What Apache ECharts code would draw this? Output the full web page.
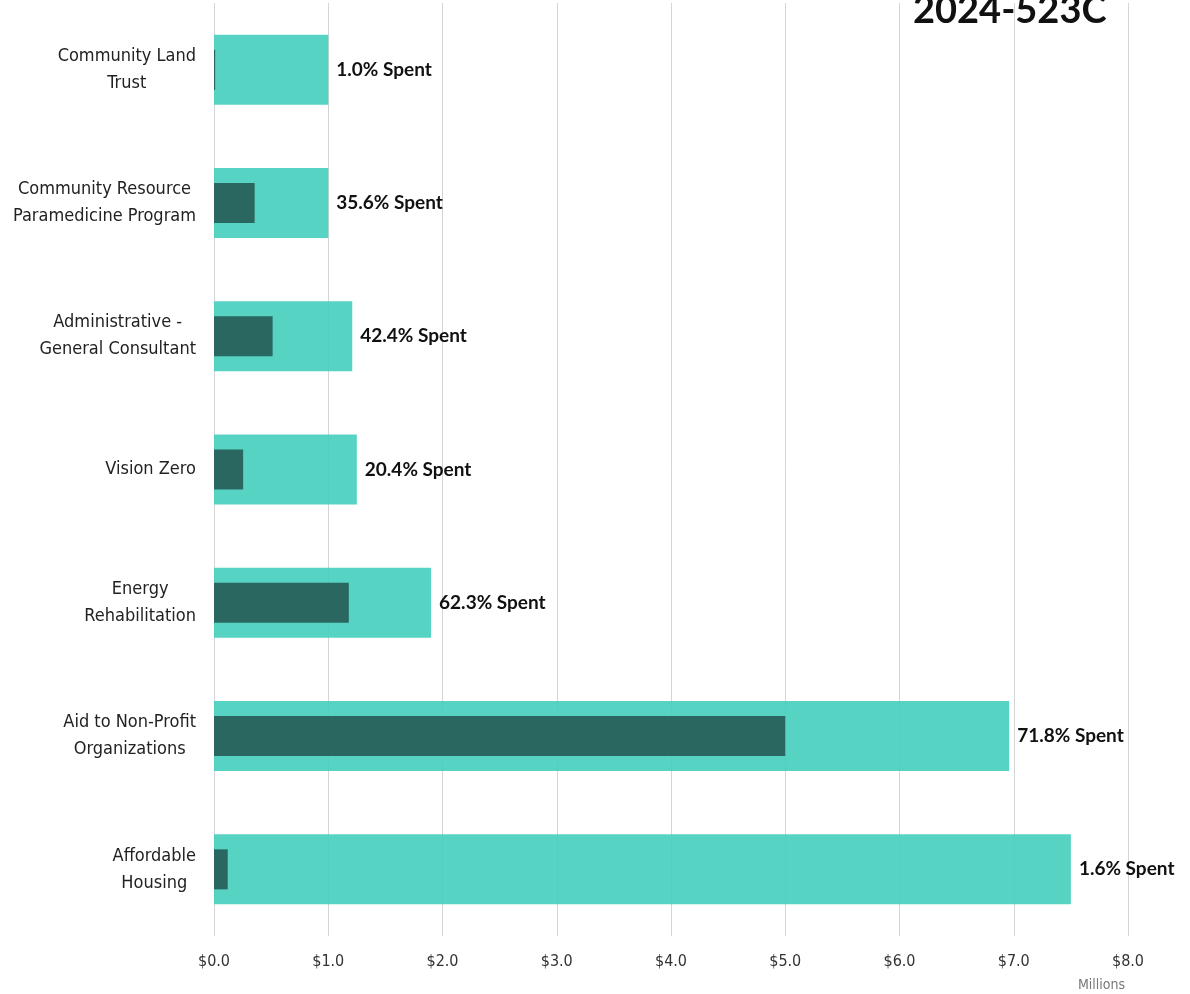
<!DOCTYPE html>
<html>
<head>
<meta charset="utf-8">
<script src="https://cdn.jsdelivr.net/npm/echarts@6/dist/echarts.min.js"></script>
<style>
html,body{margin:0;padding:0;background:#fff;}
#chart{width:1190px;height:994px;}
</style>
</head>
<body>
<div id="chart"></div>
<script>
const categories = [
  "Community Land\nTrust",
  "Community Resource\nParamedicine Program",
  "Administrative -\nGeneral Consultant",
  "Vision Zero",
  "Energy\nRehabilitation",
  "Aid to Non-Profit\nOrganizations",
  "Affordable\nHousing"
];
const budget = [1.00, 1.00, 1.21, 1.25, 1.90, 6.96, 7.50];
const spent = [0.01, 0.356, 0.513, 0.255, 1.18, 5.00, 0.12];
const pctLabels = ["1.0% Spent", "35.6% Spent", "42.4% Spent", "20.4% Spent", "62.3% Spent", "71.8% Spent", "1.6% Spent"];
const xTicks = ["$0.0", "$1.0", "$2.0", "$3.0", "$4.0", "$5.0", "$6.0", "$7.0", "$8.0"];

const labelFont = '"Liberation Sans Narrow", "DejaVu Sans Condensed", "Roboto Condensed", "Roboto", sans-serif';

const chart = echarts.init(document.getElementById('chart'), null, {renderer: 'canvas'});
const yBase = {
  type: 'category',
  inverse: true,
  data: categories,
  axisLine: {show: false},
  axisTick: {show: false},
  splitLine: {show: false}
};
chart.setOption({
  animation: false,
  backgroundColor: '#ffffff',
  title: {
    text: '2024-523C',
    left: 908,
    top: -13,
    textStyle: {fontFamily: 'Lato', fontWeight: 'bold', fontSize: 38, color: '#111'}
  },
  graphic: [{
    type: 'text',
    left: 1078,
    top: 978,
    style: {text: 'Millions', fontFamily: labelFont, fontSize: 14, fill: '#777'}
  }],
  grid: {left: 214, right: 62, top: 3, bottom: 58, containLabel: false, outerBoundsMode: 'none'},
  xAxis: {
    type: 'value',
    min: 0, max: 8, interval: 1,
    axisLine: {show: false},
    axisTick: {show: false},
    splitLine: {show: true, lineStyle: {color: '#d4d4d4', width: 1}},
    axisLabel: {
      margin: 18,
      fontFamily: labelFont,
      fontSize: 16,
      color: '#333',
      formatter: function (v) { return xTicks[Math.round(v)]; }
    }
  },
  yAxis: [
    Object.assign({}, yBase, {
      axisLabel: {
        margin: 18,
        formatter: function (v) {
          return v.split('\n').map(function (s) { return '{c|' + s + '}'; }).join('\n');
        },
        rich: {
          c: {align: 'center', fontFamily: labelFont, fontSize: 18, lineHeight: 27, color: '#222'}
        }
      }
    }),
    Object.assign({}, yBase, {axisLabel: {show: false}})
  ],
  series: [
    {
      name: 'Budget',
      type: 'bar',
      yAxisIndex: 0,
      data: budget,
      barWidth: 70,
      itemStyle: {color: 'rgba(69,206,189,0.9)'},
      label: {
        show: true,
        position: 'right',
        distance: 8,
        formatter: function (p) { return pctLabels[p.dataIndex]; },
        fontFamily: 'Lato',
        fontWeight: 'bold',
        fontSize: 19,
        color: '#111'
      }
    },
    {
      name: 'Spent',
      type: 'bar',
      yAxisIndex: 1,
      data: spent,
      barWidth: 40,
      itemStyle: {color: 'rgba(38,91,86,0.9)'}
    }
  ]
});
</script>
</body>
</html>
